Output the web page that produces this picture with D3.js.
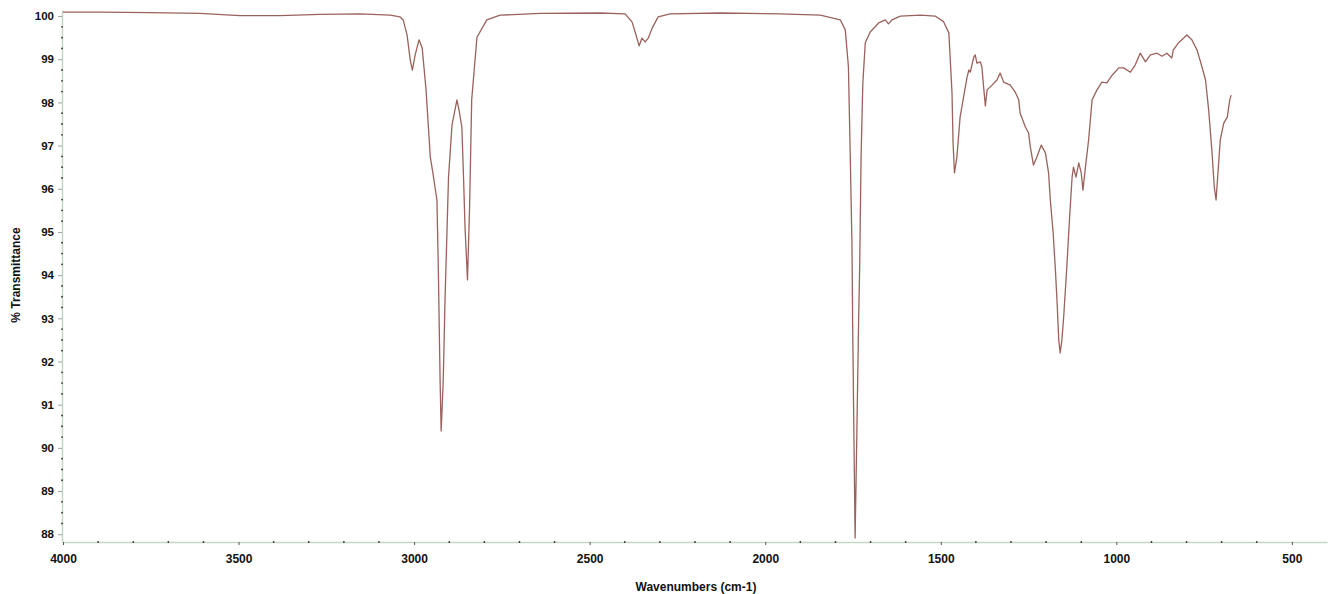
<!DOCTYPE html>
<html>
<head>
<meta charset="utf-8">
<script src="https://cdn.jsdelivr.net/npm/d3@7"></script>
<style>
  body { margin: 0; background: #fff; }
  svg { display: block; }
  text { font-family: "Liberation Sans", Arial, sans-serif; fill: #111; }
</style>
</head>
<body>
<script>
// spectrum: wavenumber (cm-1) and % transmittance
const wavenumbers = [
  4000, 3895, 3752, 3610, 3496, 3382, 3268, 3154, 3068, 3040, 3031, 3020, 3011, 3005, 2997, 2986, 2977,
  2966, 2954, 2947, 2935, 2931, 2926, 2923, 2917, 2912, 2902, 2892, 2878, 2872, 2864, 2859, 2855, 2848,
  2842, 2836, 2821, 2793, 2755, 2641, 2470, 2399, 2379, 2368, 2359, 2351, 2342, 2333, 2322, 2305, 2271,
  2128, 1957, 1843, 1786, 1772, 1763, 1758, 1753, 1751, 1748, 1744, 1739, 1734, 1731, 1727, 1722, 1715,
  1701, 1677, 1658, 1649, 1639, 1615, 1558, 1516, 1492, 1477, 1468, 1465, 1461, 1454, 1445, 1435, 1425,
  1420, 1416, 1406, 1402, 1397, 1387, 1383, 1378, 1373, 1368, 1354, 1340, 1331, 1321, 1302, 1288, 1278,
  1274, 1259, 1250, 1245, 1236, 1226, 1214, 1202, 1193, 1188, 1180, 1174, 1169, 1164, 1160, 1155, 1150,
  1141, 1133, 1126, 1122, 1115, 1107, 1100, 1095, 1088, 1079, 1069, 1055, 1041, 1027, 1012, 993, 979,
  960, 946, 932, 917, 903, 884, 870, 856, 842, 838, 823, 808, 799, 785, 770, 756, 746, 737, 728, 721,
  716, 712, 704, 694, 684, 677, 673
];
const transmittance = [
  100.09, 100.09, 100.08, 100.06, 100.01, 100.01, 100.04, 100.05, 100.02, 99.98, 99.91, 99.56, 98.98, 98.75, 99.10, 99.45, 99.26,
  98.29, 96.74, 96.39, 95.74, 94.12, 91.57, 90.39, 91.57, 93.42, 96.27, 97.48, 98.06, 97.82, 97.43, 96.20, 95.11, 93.89,
  95.58, 98.06, 99.51, 99.91, 100.02, 100.06, 100.07, 100.05, 99.86, 99.56, 99.31, 99.49, 99.40, 99.49, 99.72, 99.98, 100.05,
  100.07, 100.05, 100.02, 99.91, 99.68, 98.82, 96.83, 94.74, 92.89, 90.71, 87.91, 90.34, 92.96, 94.19, 96.74, 98.45, 99.38,
  99.63, 99.84, 99.91, 99.82, 99.91, 100.00, 100.02, 100.00, 99.87, 99.61, 98.22, 97.06, 96.37, 96.74, 97.66, 98.13, 98.59,
  98.75, 98.70, 99.05, 99.10, 98.91, 98.94, 98.82, 98.36, 97.92, 98.29, 98.40, 98.52, 98.68, 98.47, 98.40, 98.24, 98.06,
  97.75, 97.43, 97.29, 96.97, 96.55, 96.74, 97.01, 96.83, 96.37, 95.74, 94.98, 94.19, 93.42, 92.50, 92.20, 92.50, 93.03,
  94.19, 95.35, 96.27, 96.50, 96.27, 96.60, 96.37, 95.97, 96.50, 97.13, 98.06, 98.29, 98.47, 98.45, 98.63, 98.80, 98.80,
  98.70, 98.87, 99.14, 98.94, 99.10, 99.14, 99.07, 99.14, 99.03, 99.21, 99.38, 99.49, 99.56, 99.45, 99.21, 98.82, 98.52, 97.82, 96.90, 96.04,
  95.74, 96.20, 97.13, 97.52, 97.66, 98.06, 98.17
];
const xTicks = [4000, 3500, 3000, 2500, 2000, 1500, 1000, 500];
const yTicks = [88, 89, 90, 91, 92, 93, 94, 95, 96, 97, 98, 99, 100];

const W = 1328, H = 594;
const svg = d3.select("body").append("svg").attr("width", W).attr("height", H);

const x = d3.scaleLinear().domain([4000, 400]).range([63, 1327]);
const y = d3.scaleLinear().domain([87.82, 100.14]).range([542, 10]);

const axisColor = "#c3d8c3";

// y axis
const gy = svg.append("g").attr("transform", "translate(62,0)")
  .call(d3.axisLeft(y).tickValues(yTicks).tickFormat(d3.format("d")).tickSize(4).tickPadding(4).tickSizeOuter(0));
gy.select(".domain").attr("stroke", axisColor).attr("stroke-width", 1.5);
gy.selectAll(".tick line").attr("stroke", "#9aa89a");
gy.selectAll(".tick text").style("font-size", "11.5px").style("font-weight", "bold")
  .style("font-family", "'Liberation Sans', Arial, sans-serif");

const yMinor = d3.range(88, 100, 0.25).filter(v => v % 1 !== 0);
gy.selectAll("circle.minor").data(yMinor).enter().append("circle")
  .attr("cx", 0).attr("cy", d => y(d)).attr("r", 0.9).attr("fill", "#333");

// x axis
const gx = svg.append("g").attr("transform", "translate(0,542)")
  .call(d3.axisBottom(x).tickValues(xTicks).tickFormat(d3.format("d")).tickSize(3).tickPadding(9).tickSizeOuter(0));
gx.select(".domain").attr("stroke", axisColor).attr("stroke-width", 1.5);
gx.selectAll(".tick line").attr("stroke", "#555");
gx.selectAll(".tick text").style("font-size", "12px").style("font-weight", "bold")
  .style("font-family", "'Liberation Sans', Arial, sans-serif");

const xMinor = d3.range(4000, 400, -100).filter(v => v % 500 !== 0);
gx.selectAll("circle.minor").data(xMinor).enter().append("circle")
  .attr("cx", d => x(d)).attr("cy", 0).attr("r", 0.9).attr("fill", "#333");

// titles
svg.append("text")
  .attr("transform", "translate(20,275) rotate(-90)")
  .attr("text-anchor", "middle")
  .style("font-size", "12px")
  .style("font-weight", "bold")
  .text("% Transmittance");

svg.append("text")
  .attr("x", 696).attr("y", 591)
  .attr("text-anchor", "middle")
  .style("font-size", "12px")
  .style("font-weight", "bold")
  .text("Wavenumbers (cm-1)");

// spectrum
const pts = wavenumbers.map((w, i) => [w, transmittance[i]]);
const line = d3.line().x(d => x(d[0])).y(d => y(d[1]));
svg.append("path")
  .attr("d", line(pts))
  .attr("fill", "none")
  .attr("stroke", "#9a625c")
  .attr("stroke-width", 1.3)
  .attr("stroke-linejoin", "round");
</script>
</body>
</html>
